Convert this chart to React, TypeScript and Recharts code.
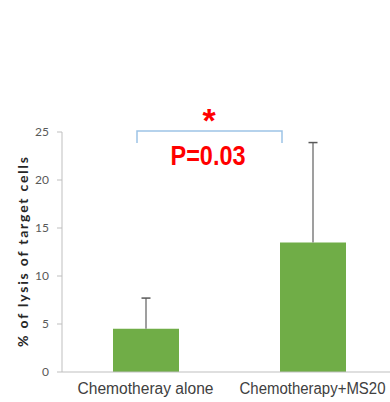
import { BarChart, Bar, XAxis, YAxis } from "recharts"

const categories = ["Chemotheray alone", "Chemotherapy+MS20"]
const lysis = [4.5, 13.5]
const errorUp = [3.2, 10.4]
const yTicks = [0, 5, 10, 15, 20, 25]

const rows = categories.map((name, i) => ({
  name,
  lysis: lysis[i],
  err: errorUp[i]
}))

const narrow = "'Liberation Sans Narrow', 'Arial Narrow', 'Liberation Sans', sans-serif"
const calibriLike = "Lato, 'Open Sans', sans-serif"
const labelWidths = [136, 146]

const CategoryTick = (props: any) => {
  const { x, y, payload } = props
  return (
    <text
      x={x}
      y={y + 14}
      textAnchor="middle"
      fontSize={16}
      fill="#404040"
      fontFamily={narrow}
      textLength={labelWidths[payload.index]}
      lengthAdjust="spacingAndGlyphs"
    >
      {payload.value}
    </text>
  )
}

// upper-only error bar, drawn on the stacked segment that spans value..value+err
const UpperError = (props: any) => {
  const { x, y, width, height } = props
  const cx = x + width / 2
  return (
    <g>
      <line x1={cx} y1={y + height} x2={cx} y2={y} stroke="#7f7f7f" strokeWidth={1.5} />
      <line x1={cx - 4.5} y1={y} x2={cx + 4.5} y2={y} stroke="#595959" strokeWidth={1.5} />
    </g>
  )
}

export default function App() {
  return (
    <div style={{ position: "absolute", left: 0, top: 0, width: 390, height: 402, overflow: "hidden", background: "#fff" }}>
      <BarChart
        width={390}
        height={402}
        data={rows}
        margin={{ top: 132, right: -6, bottom: 0, left: 12 }}
      >
        <XAxis
          dataKey="name"
          height={30}
          axisLine={{ stroke: "#bfbfbf" }}
          tickLine={false}
          tick={<CategoryTick />}
        />
        <YAxis
          width={50}
          domain={[0, 25]}
          ticks={yTicks}
          interval={0}
          allowDataOverflow
          axisLine={{ stroke: "#bfbfbf" }}
          tickLine={{ stroke: "#bfbfbf" }}
          tickSize={5}
          tickMargin={8}
          tick={{ fontSize: 12, fill: "#595959", fontFamily: calibriLike }}
          label={() => (
            <text
              x={28}
              y={252}
              transform="rotate(-90, 28, 252)"
              textAnchor="middle"
              fontSize={14}
              fontWeight="bold"
              fill="#262626"
              fontFamily={calibriLike}
              textLength={190}
              lengthAdjust="spacing"
            >
              % of lysis  of target cells
            </text>
          )}
        />
        <Bar dataKey="lysis" stackId="s" fill="#70ad47" barSize={66} isAnimationActive={false} />
        <Bar dataKey="err" stackId="s" fill="none" barSize={66} shape={<UpperError />} isAnimationActive={false} />
      </BarChart>
      <svg width={390} height={402} style={{ position: "absolute", left: 0, top: 0, pointerEvents: "none" }}>
        <polyline
          points="137,143 137,131 282,131 282,143"
          fill="none"
          stroke="#9dc3e6"
          strokeWidth={1.5}
        />
        <text x={209} y={132} textAnchor="middle" fontSize={34} fontWeight="bold" fill="#ff0000" fontFamily="'Liberation Sans', sans-serif">
          *
        </text>
        <text
          x={208}
          y={165}
          textAnchor="middle"
          fontSize={27}
          fontWeight="bold"
          fill="#ff0000"
          fontFamily={narrow}
          textLength={75}
          lengthAdjust="spacingAndGlyphs"
        >
          P=0.03
        </text>
      </svg>
    </div>
  )
}
